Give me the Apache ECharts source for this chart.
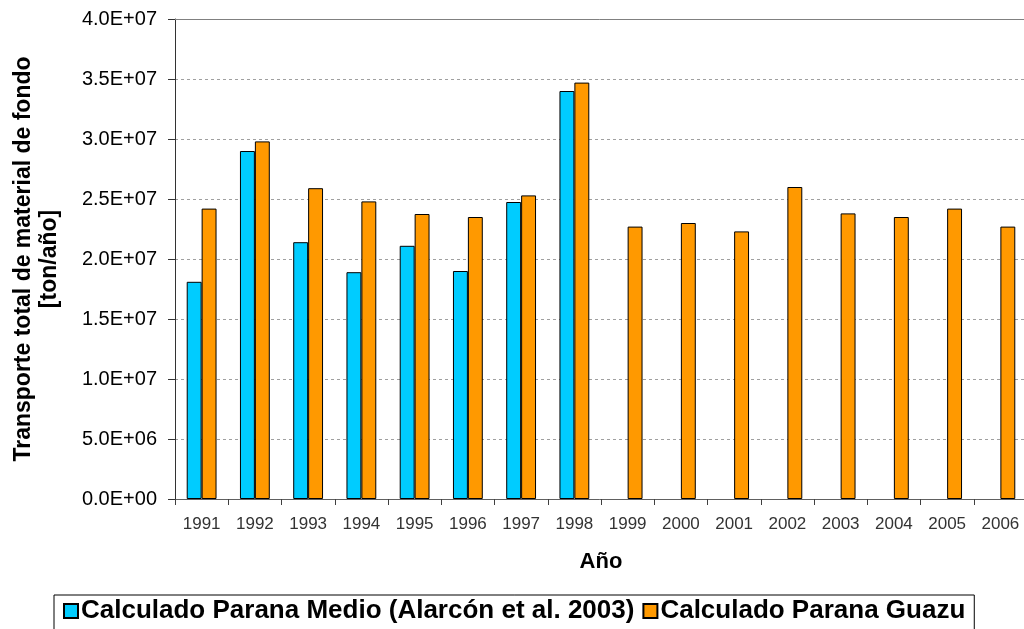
<!DOCTYPE html>
<html>
<head>
<meta charset="utf-8">
<script src="https://cdn.jsdelivr.net/npm/echarts@6/dist/echarts.min.js"></script>
<style>
html,body{margin:0;padding:0;background:#fff;}
#chart{width:1024px;height:629px;}
</style>
</head>
<body>
<div id="chart"></div>
<script>
const years = ['1991','1992','1993','1994','1995','1996','1997','1998','1999','2000','2001','2002','2003','2004','2005','2006'];
const medioValues = [1.81e7, 2.90e7, 2.14e7, 1.89e7, 2.11e7, 1.90e7, 2.475e7, 3.40e7, null, null, null, null, null, null, null, null];
const guazuValues = [2.42e7, 2.98e7, 2.59e7, 2.48e7, 2.375e7, 2.35e7, 2.53e7, 3.47e7, 2.27e7, 2.30e7, 2.23e7, 2.60e7, 2.38e7, 2.35e7, 2.42e7, 2.27e7];
const seriesNames = ['Calculado Parana Medio (Alarcón et al. 2003)', 'Calculado Parana Guazu'];
const yTitle = 'Transporte total de material de fondo\n[ton/año]';
const xTitle = 'Año';

function sci(v){
  if (v === 0) return '0.0E+00';
  const e = Math.floor(Math.log10(v) + 1e-9);
  const m = v / Math.pow(10, e);
  return m.toFixed(1) + 'E+' + String(e).padStart(2, '0');
}

const chart = echarts.init(document.getElementById('chart'), null, {renderer:'canvas'});
const FONT = '"Liberation Sans", Arial, sans-serif';
chart.setOption({
  backgroundColor: '#ffffff',
  animation: false,
  textStyle: {fontFamily: FONT},
  grid: {left: 175, top: 19, width: 852, height: 480, show: false, outerBoundsMode: 'none', containLabel: false},
  legend: {
    left: 54, top: 595,
    padding: [3, 9, 6, 9],
    itemGap: 8,
    itemWidth: 14, itemHeight: 14,
    borderColor: '#000', borderWidth: 1,
    icon: 'rect',
    textStyle: {fontFamily: FONT, fontWeight: 'bold', fontSize: 26, color: '#000', padding: [0,0,0,-2]},
    data: seriesNames
  },
  xAxis: [{
    type: 'category',
    data: years,
    name: xTitle,
    nameLocation: 'middle',
    nameGap: 52,
    nameTextStyle: {fontFamily: FONT, fontWeight: 'bold', fontSize: 22, color: '#000'},
    axisLine: {lineStyle: {color: '#606060', width: 1}},
    axisTick: {show: true, length: 6, lineStyle: {color: '#404040'}},
    axisLabel: {fontFamily: FONT, fontSize: 17, color: '#333', margin: 17},
    splitLine: {show: false}
  }, {
    type: 'category',
    data: years,
    position: 'top',
    axisLine: {show: true, lineStyle: {color: '#808080', width: 1}},
    axisTick: {show: false},
    axisLabel: {show: false},
    splitLine: {show: false}
  }],
  yAxis: {
    type: 'value',
    min: 0, max: 4e7, interval: 5e6,
    name: yTitle,
    nameLocation: 'middle',
    nameRotate: 90,
    nameGap: 112,
    nameTextStyle: {fontFamily: FONT, fontWeight: 'bold', fontSize: 23, lineHeight: 26, color: '#000', align: 'center'},
    axisLine: {show: true, lineStyle: {color: '#333', width: 1}},
    axisTick: {show: true, length: 7, lineStyle: {color: '#333'}},
    axisLabel: {fontFamily: FONT, fontSize: 20, color: '#000', margin: 18, formatter: sci},
    splitLine: {show: true, showMinLine: false, showMaxLine: false, lineStyle: {color: '#a0a0a0', type: [3, 3], width: 1}}
  },
  series: [
    {
      name: seriesNames[0], type: 'bar', data: medioValues,
      barGap: '0%', barCategoryGap: '44%',
      itemStyle: {color: '#00CCFF', borderColor: '#000', borderWidth: 1}
    },
    {
      name: seriesNames[1], type: 'bar', data: guazuValues,
      barGap: '0%', barCategoryGap: '44%',
      itemStyle: {color: '#FF9900', borderColor: '#000', borderWidth: 1}
    }
  ]
});
</script>
</body>
</html>
